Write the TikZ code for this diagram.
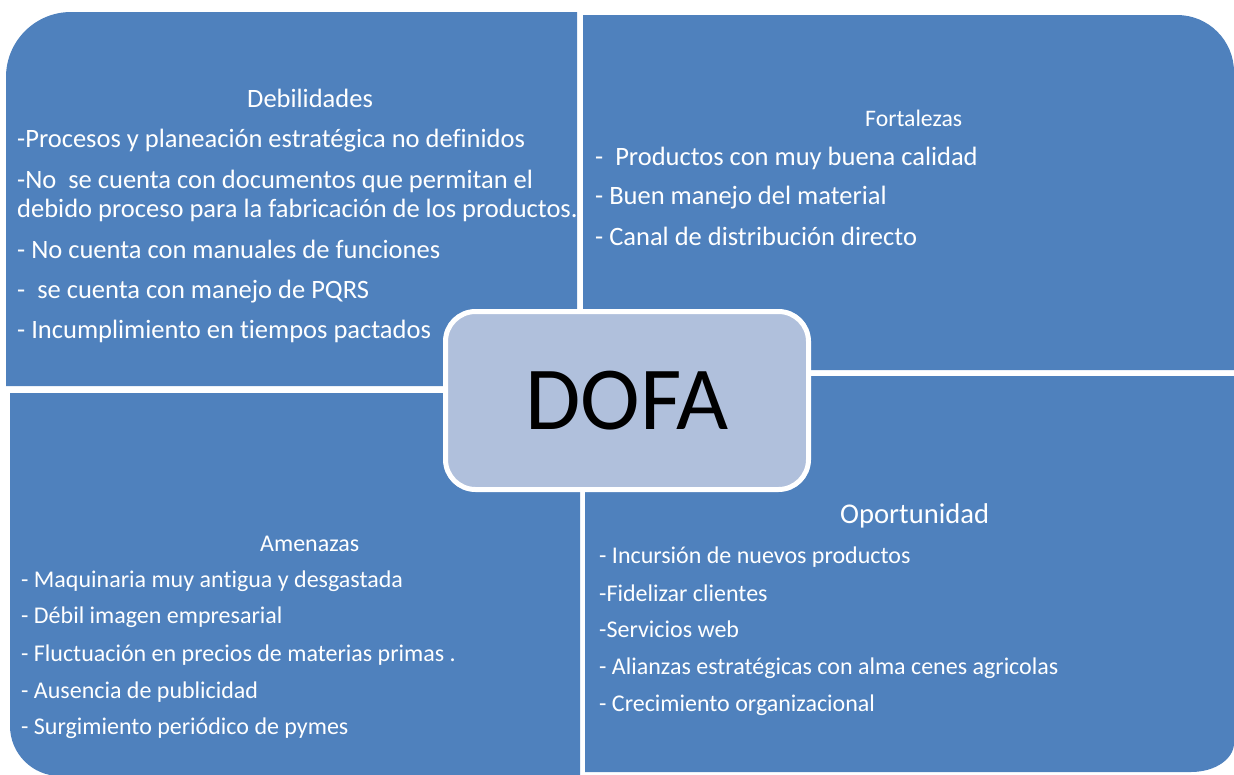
\documentclass[tikz,border=0pt]{standalone}
\usepackage{fontspec}
\setmainfont[Ligatures={NoCommon}]{Carlito}
\definecolor{quad}{HTML}{4F81BD}
\definecolor{dofafill}{HTML}{B0C0DC}
\begin{document}
\begin{tikzpicture}[x=1pt,y=-1pt,
  quadfill/.style={fill=quad},
  txt/.style={text=white, anchor=base west, inner sep=0pt},
  big/.style={txt, font=\fontsize{26.5}{30}\selectfont},
  small/.style={txt, font=\fontsize{24}{28}\selectfont},
  headF/.style={txt, font=\fontsize{23.7}{28}\selectfont},
  headO/.style={txt, font=\fontsize{28.6}{32}\selectfont},
  dofabox/.style={draw=white, line width=5pt, fill=dofafill, rounded corners=30pt,
    minimum width=363pt, minimum height=178pt, inner sep=0pt,
    font=\fontsize{90}{90}\selectfont, text=black}
]
\useasboundingbox (0,0) rectangle (1234,774);
% quadrants
\fill[quadfill] (6,386) -- (6,77) .. controls (6,41.1) and (35.1,12) .. (71,12) -- (577,12) -- (577,386) -- cycle;
\fill[quadfill] (583,370) -- (583,15) -- (1177,15) .. controls (1208.5,15) and (1234,40.5) .. (1234,72) -- (1234,370) -- cycle;
\fill[quadfill] (10,393) -- (580,393) -- (580,776) -- (60,776) .. controls (32.4,776) and (10,753.6) .. (10,726) -- cycle;
\fill[quadfill] (585,376) -- (1234,376) -- (1234,743) .. controls (1234,759) and (1215,772) .. (1191,772) -- (585,772) -- cycle;
% Debilidades
\node[big] (dh) at (247,107) {Debilidades};
\node[big] (d1) at (17,147) {-Procesos y planeación estratégica no definidos};
\node[big] (d2) at (17,188) {-No\ \ se cuenta con documentos que permitan el};
\node[big] (d3) at (17,217) {debido proceso para la fabricación de los productos.};
\node[big] (d4) at (17,258) {- No cuenta con manuales de funciones};
\node[big] (d5) at (17,298) {-\ \ se cuenta con manejo de PQRS};
\node[big] (d6) at (17,338) {- Incumplimiento en tiempos pactados};
% Fortalezas
\node[headF] (fh) at (865,126) {Fortalezas};
\node[big] (f1) at (595,165) {-\ \ Productos con muy buena calidad};
\node[big] (f2) at (595,204) {- Buen manejo del material};
\node[big] (f3) at (595,245) {- Canal de distribución directo};
% Amenazas
\node[small] (ah) at (260,551) {Amenazas};
\node[small] (a1) at (21,587) {- Maquinaria muy antigua y desgastada};
\node[small] (a2) at (21,623) {- Débil imagen empresarial};
\node[small] (a3) at (21,661) {- Fluctuación en precios de materias primas .};
\node[small] (a4) at (21,698) {- Ausencia de publicidad};
\node[small] (a5) at (21,734) {- Surgimiento periódico de pymes};
% Oportunidad
\node[headO] (oh) at (840,523) {Oportunidad};
\node[small] (o1) at (599,563) {- Incursión de nuevos productos};
\node[small] (o2) at (599,601) {-Fidelizar clientes};
\node[small] (o3) at (599,637) {-Servicios web};
\node[small] (o4) at (599,674) {- Alianzas estratégicas con alma cenes agricolas};
\node[small] (o5) at (599,711) {- Crecimiento organizacional};
% center
\node[dofabox] (dofa) at (627,400.5) {DOFA};
\end{tikzpicture}
\end{document}
